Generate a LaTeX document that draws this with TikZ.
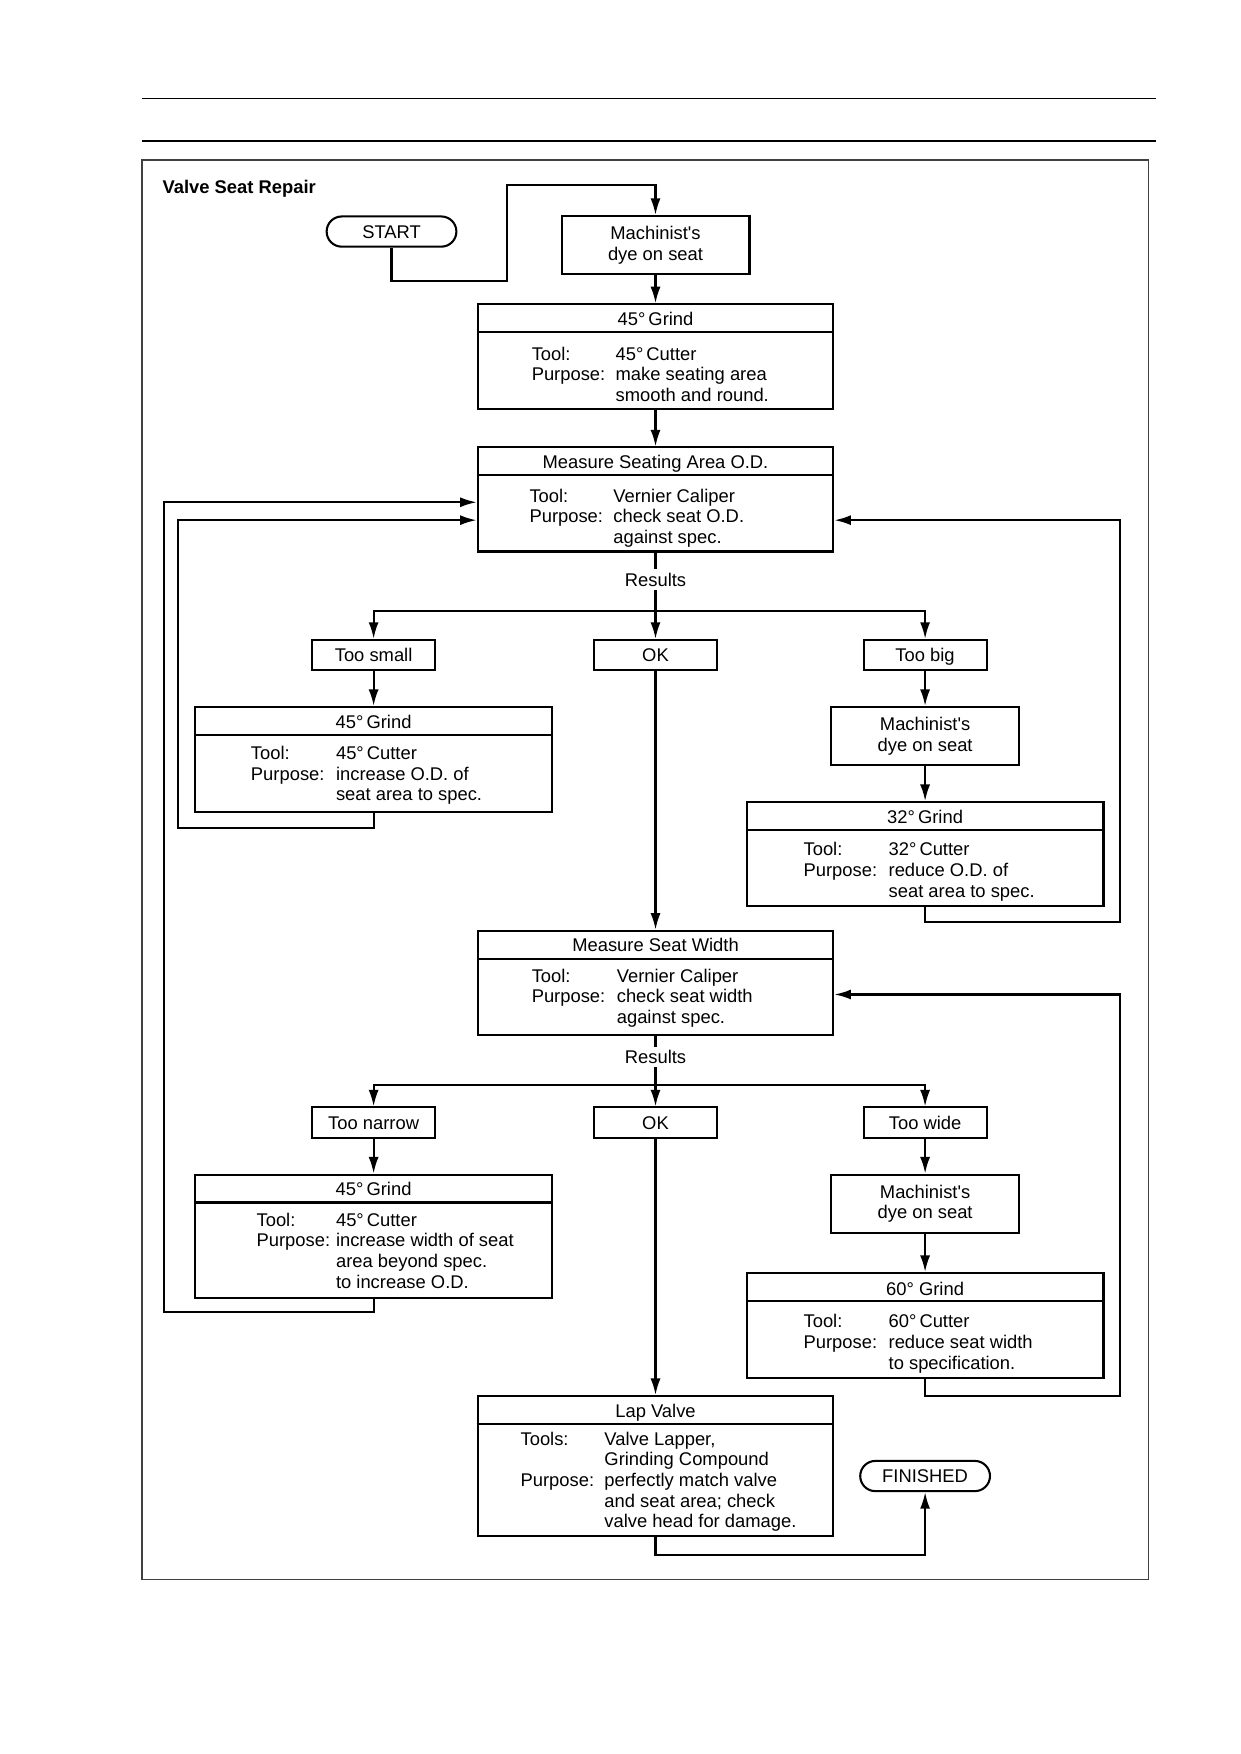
\documentclass[tikz,border=0pt]{standalone}
\usepackage{fontspec}
\setmainfont{Liberation Sans}
\usetikzlibrary{arrows.meta, shapes.misc}
\newcommand{\pxu}{0.18936mm}

\begin{document}
\begin{tikzpicture}[x=0.18936mm, y=-0.18936mm,
        font=\fontsize{8.85}{9.95}\selectfont,
        line/.style={line width=1pt},
        flow/.style={line width=1pt, -{Latex[length=2.8mm,width=1.7mm]}},
        box/.style={draw, line width=1pt, inner sep=0pt, align=center},
        result/.style={box, minimum width=110*\pxu, minimum height=27*\pxu, text height=6.3pt, text depth=0pt},
        dyebox/.style={box, minimum width=168*\pxu, minimum height=52*\pxu},
        stepbox/.style={box, minimum width=318*\pxu},
        endbox/.style={draw, line width=1pt, rounded rectangle, minimum width=116*\pxu, minimum height=27*\pxu, inner sep=0pt, text height=6.3pt, text depth=0pt},
        head/.style={anchor=base, inner sep=0pt},
        body/.style={anchor=base west, inner sep=0pt}]

        % Page
        \useasboundingbox (0,0) rectangle (1109,1568);
        \draw[line width=0.7pt] (127,88) -- (1033,88);
        \draw[line width=0.7pt] (127,126) -- (1033,126);
        \draw[line width=0.6pt, black!75] (127,143) rectangle (1027,1412);
        \node[anchor=base west, inner sep=0pt, font=\fontsize{8.85}{9.95}\selectfont\bfseries] (title) at (145,173) {Valve Seat Repair};

        % Start and first dye
        \node[endbox] (start) at (350,207) {START};
        \node[dyebox] (dyeA) at (586,219) {Machinist\textquotesingle s\\dye on seat};
        \draw[flow] (start.south) |- (453,251) |- (586,165) -- (dyeA.north);

        % First 45 grind
        \node[stepbox, minimum height=94*\pxu] (grindA) at (586,319) {};
        \node[head] (grindAt) at (586,291) {45°\,Grind};
        \draw[line] (grindA.west |- 0,297) -- (grindA.east |- 0,297);
        \node[body] (grindAb) at (475,322) {\begin{tabular}[t]{@{}p{14.2mm}@{}l@{}}Tool: & 45°\,Cutter\\ Purpose: & make seating area\\ & smooth and round.\end{tabular}};
        \draw[flow] (dyeA.south) -- (grindA.north);

        % Measure seating area O.D.
        \node[stepbox, minimum height=93*\pxu] (measOD) at (586,446.5) {};
        \node[head] (measODt) at (586,419) {Measure Seating Area O.D.};
        \draw[line] (measOD.west |- 0,425) -- (measOD.east |- 0,425);
        \node[body] (measODb) at (473,449) {\begin{tabular}[t]{@{}p{14.2mm}@{}l@{}}Tool: & Vernier Caliper\\ Purpose: & check seat O.D.\\ & against spec.\end{tabular}};
        \draw[flow] (grindA.south) -- (measOD.north);

        % Results (O.D.)
        \node[inner sep=1.5pt] (resA) at (586,518) {Results};
        \coordinate (splitA) at (586,546);
        \draw[line] (measOD.south) -- (resA.north);
        \draw[line] (resA.south) -- (splitA);
        \node[result] (tooSmall) at (334,585.5) {Too small};
        \node[result] (okA) at (586,585.5) {OK};
        \node[result] (tooBig) at (827,585.5) {Too big};
        \draw[flow] (splitA) -| (tooSmall.north);
        \draw[flow] (splitA) -- (okA.north);
        \draw[flow] (splitA) -| (tooBig.north);

        % Too small branch
        \node[stepbox, minimum width=319*\pxu, minimum height=94*\pxu] (grindB) at (334,679) {};
        \node[head] (grindBt) at (334,651) {45°\,Grind};
        \draw[line] (grindB.west |- 0,657) -- (grindB.east |- 0,657);
        \node[body] (grindBb) at (224,679) {\begin{tabular}[t]{@{}p{14.4mm}@{}l@{}}Tool: & 45°\,Cutter\\ Purpose: & increase O.D. of\\ & seat area to spec.\end{tabular}};
        \draw[flow] (tooSmall.south) -- (grindB.north);
        \draw[flow] (grindB.south) |- (159,740) |- (measOD.west |- 0,465);

        % Too big branch
        \node[dyebox] (dyeB) at (827,658) {Machinist\textquotesingle s\\dye on seat};
        \node[stepbox, minimum width=319*\pxu, minimum height=93*\pxu] (grindC) at (827,763.5) {};
        \node[head] (grindCt) at (827,736) {32°\,Grind};
        \draw[line] (grindC.west |- 0,742) -- (grindC.east |- 0,742);
        \node[body] (grindCb) at (718,765) {\begin{tabular}[t]{@{}p{14.4mm}@{}l@{}}Tool: & 32°\,Cutter\\ Purpose: & reduce O.D. of\\ & seat area to spec.\end{tabular}};
        \draw[flow] (tooBig.south) -- (dyeB.north);
        \draw[flow] (dyeB.south) -- (grindC.north);
        \draw[flow] (grindC.south) |- (1001,824) |- (measOD.east |- 0,465);

        % Measure seat width
        \node[stepbox, minimum height=93*\pxu] (measWidth) at (586,878.5) {};
        \node[head] (measWidtht) at (586,851) {Measure Seat Width};
        \draw[line] (measWidth.west |- 0,857) -- (measWidth.east |- 0,857);
        \node[body] (measWidthb) at (475,878) {\begin{tabular}[t]{@{}p{14.4mm}@{}l@{}}Tool: & Vernier Caliper\\ Purpose: & check seat width\\ & against spec.\end{tabular}};
        \draw[flow] (okA.south) -- (measWidth.north);

        % Results (width)
        \node[inner sep=1.5pt] (resB) at (586,945) {Results};
        \coordinate (splitB) at (586,970);
        \draw[line] (measWidth.south) -- (resB.north);
        \draw[line] (resB.south) -- (splitB);
        \node[result] (tooNarrow) at (334,1003.5) {Too narrow};
        \node[result] (okB) at (586,1003.5) {OK};
        \node[result] (tooWide) at (827,1003.5) {Too wide};
        \draw[flow] (splitB) -| (tooNarrow.north);
        \draw[flow] (splitB) -- (okB.north);
        \draw[flow] (splitB) -| (tooWide.north);

        % Too narrow branch
        \node[stepbox, minimum width=319*\pxu, minimum height=110*\pxu] (grindD) at (334,1105) {};
        \node[head] (grindDt) at (334,1069) {45°\,Grind};
        \draw[line] (grindD.west |- 0,1075) -- (grindD.east |- 0,1075);
        \node[body] (grindDb) at (229,1096) {\begin{tabular}[t]{@{}p{13.45mm}@{}l@{}}Tool: & 45°\,Cutter\\ Purpose: & increase width of seat\\ & area beyond spec.\\ & to increase O.D.\end{tabular}};
        \draw[flow] (tooNarrow.south) -- (grindD.north);
        \draw[flow] (grindD.south) |- (147,1173) |- (measOD.west |- 0,449);

        % Too wide branch
        \node[dyebox] (dyeC) at (827,1076) {Machinist\textquotesingle s\\dye on seat};
        \node[stepbox, minimum width=319*\pxu, minimum height=94*\pxu] (grindE) at (827,1185) {};
        \node[head] (grindEt) at (827,1158) {60° Grind};
        \draw[line] (grindE.west |- 0,1163) -- (grindE.east |- 0,1163);
        \node[body] (grindEb) at (718,1187) {\begin{tabular}[t]{@{}p{14.4mm}@{}l@{}}Tool: & 60°\,Cutter\\ Purpose: & reduce seat width\\ & to specification.\end{tabular}};
        \draw[flow] (tooWide.south) -- (dyeC.north);
        \draw[flow] (dyeC.south) -- (grindE.north);
        \draw[flow] (grindE.south) |- (1001,1248) |- (measWidth.east |- 0,889);

        % Lap valve and finish
        \node[stepbox, minimum height=125*\pxu] (lapValve) at (586,1310.5) {};
        \node[head] (lapValvet) at (586,1267) {Lap Valve};
        \draw[line] (lapValve.west |- 0,1273) -- (lapValve.east |- 0,1273);
        \node[body] (lapValveb) at (465,1292) {\begin{tabular}[t]{@{}p{14.2mm}@{}l@{}}Tools: & Valve Lapper,\\ & Grinding Compound\\ Purpose: & perfectly match valve\\ & and seat area; check\\ & valve head for damage.\end{tabular}};
        \draw[flow] (okB.south) -- (lapValve.north);
        \node[endbox] (finished) at (827,1319.5) {FINISHED};
        \draw[flow] (lapValve.south) |- (827,1390) -- (finished.south);
    \end{tikzpicture}
\end{document}
